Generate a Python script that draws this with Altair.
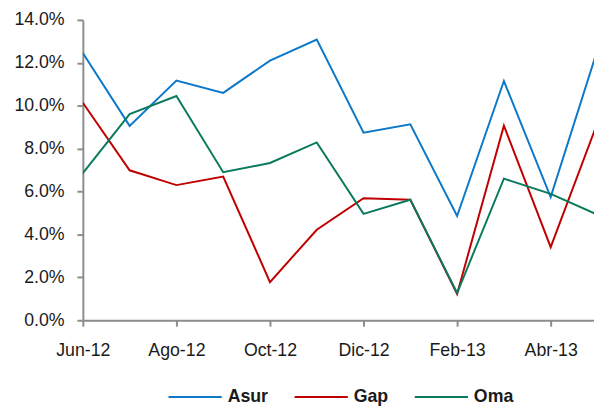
import altair as alt
import pandas as pd

months = ["Jun-12", "Jul-12", "Ago-12", "Sep-12", "Oct-12", "Nov-12",
          "Dic-12", "Ene-13", "Feb-13", "Mar-13", "Abr-13", "May-13"]
series_names = ["Asur", "Gap", "Oma"]
asur = [12.46, 9.06, 11.17, 10.60, 12.10, 13.08, 8.74, 9.13, 4.86, 11.15, 5.74, 12.6]
gap = [10.14, 6.99, 6.30, 6.70, 1.78, 4.22, 5.69, 5.62, 1.23, 9.07, 3.41, 9.2]
oma = [6.86, 9.61, 10.45, 6.90, 7.33, 8.29, 4.96, 5.62, 1.27, 6.60, 5.89, 4.92]
colors = ["#0B78C8", "#C00000", "#0A7A5E"]
y_ticks = [0, 0.02, 0.04, 0.06, 0.08, 0.10, 0.12, 0.14]

rows = []
for name, vals in zip(series_names, [asur, gap, oma]):
    for i, v in enumerate(vals):
        rows.append({"idx": i, "mes": months[i], "serie": name, "valor": v / 100})
df = pd.DataFrame(rows)

label_expr = "[" + ",".join("'%s'" % m for m in months) + "][datum.value]"

FONT = "Liberation Sans"

chart = alt.Chart(df).mark_line(strokeWidth=2, clip=True).encode(
    x=alt.X("idx:Q",
            scale=alt.Scale(domain=[0, 10.926], nice=False, zero=False),
            axis=alt.Axis(values=[0, 2, 4, 6, 8, 10], labelExpr=label_expr,
                          labelFlush=False, labelOverlap=False,
                          title=None, grid=False, tickSize=6, labelPadding=16,
                          domainColor="#8c8c8c", tickColor="#8c8c8c",
                          domainWidth=2, tickWidth=2,
                          labelFont=FONT, labelFontSize=18, labelColor="#1a1a1a")),
    y=alt.Y("valor:Q",
            scale=alt.Scale(domain=[0, 0.14], nice=False),
            axis=alt.Axis(values=y_ticks, format=".1%", title=None, grid=False,
                          labelFlush=False,
                          tickSize=6, labelPadding=13,
                          domainColor="#8c8c8c", tickColor="#8c8c8c",
                          domainWidth=2, tickWidth=2,
                          labelFont=FONT, labelFontSize=18, labelColor="#1a1a1a")),
    color=alt.Color("serie:N",
                    scale=alt.Scale(domain=series_names, range=colors),
                    legend=alt.Legend(orient="none", legendX=86, legendY=355,
                                      direction="horizontal", title=None,
                                      symbolType="stroke", symbolSize=2916,
                                      symbolStrokeWidth=2, labelFont=FONT,
                                      labelFontSize=18, labelFontWeight="bold",
                                      labelColor="#1a1a1a",
                                      columnPadding=22, labelOffset=5,
                                      padding=0)),
    detail="serie:N",
).properties(
    width=519, height=305,
    padding={"left": 5, "top": 0, "right": 0, "bottom": 0},
).configure_view(stroke=None)

chart.save("out.html", embed_options={"renderer": "svg", "actions": False})
